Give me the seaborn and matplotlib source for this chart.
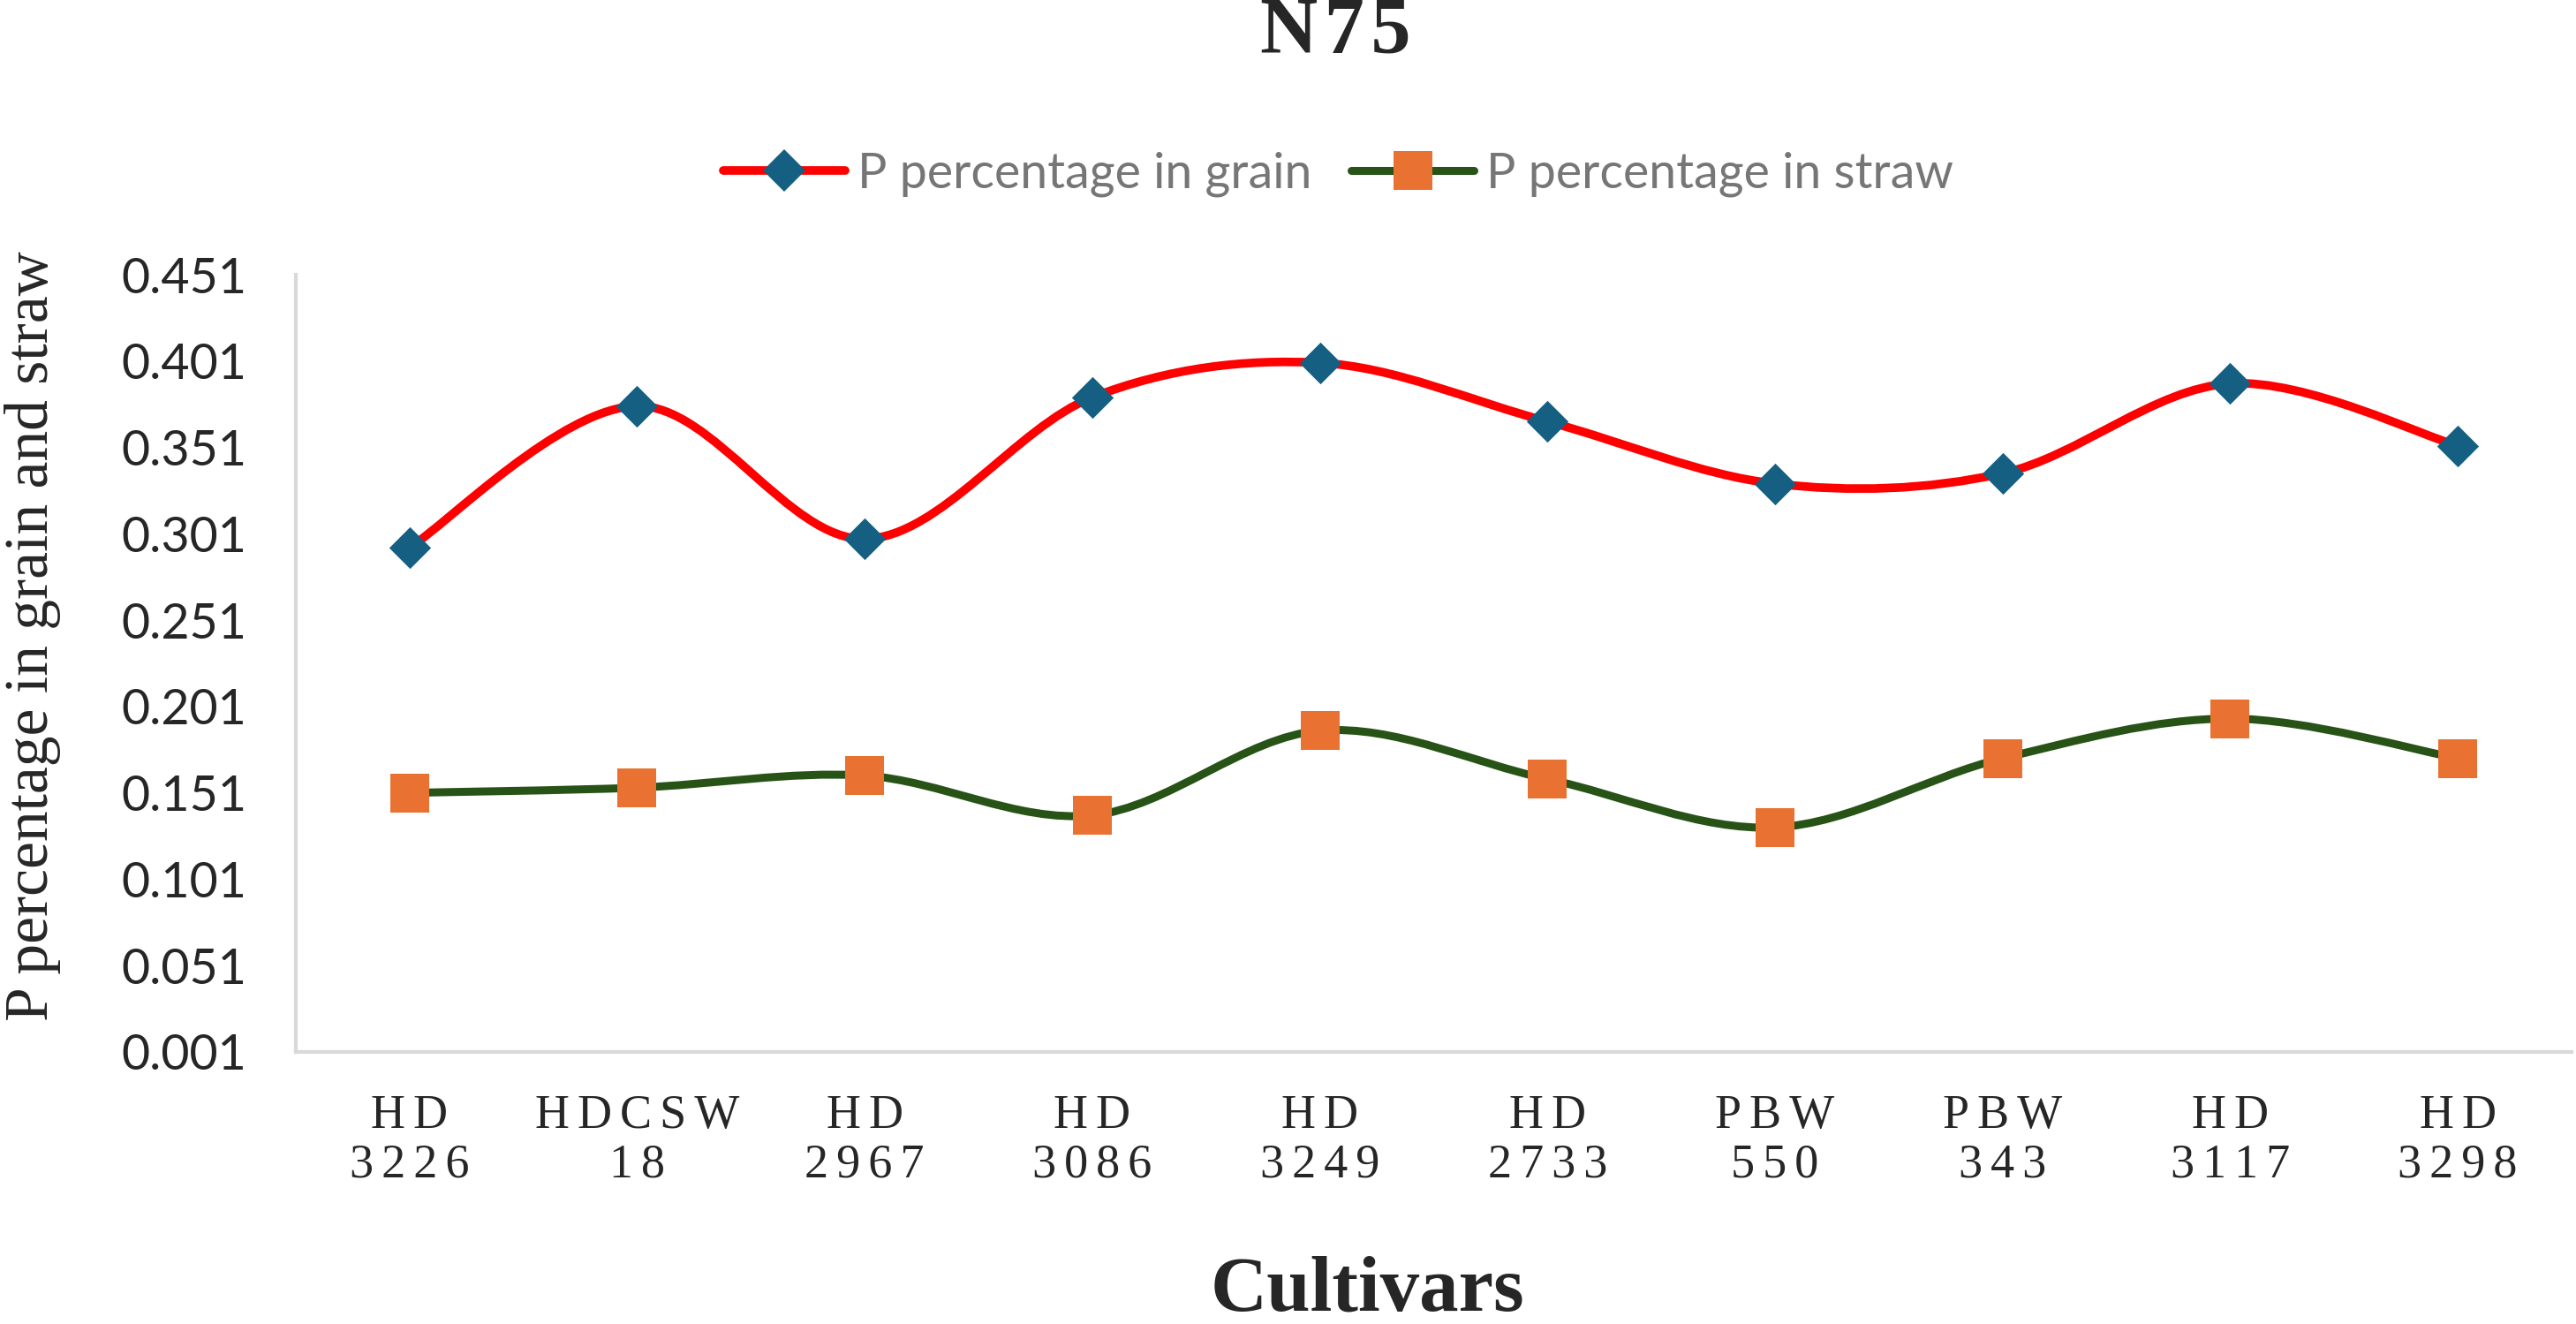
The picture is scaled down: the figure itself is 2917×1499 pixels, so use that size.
import numpy as np
import pandas as pd
import matplotlib
matplotlib.use("Agg")
import matplotlib.pyplot as plt
import seaborn as sns
from matplotlib.path import Path
from matplotlib.patches import PathPatch
from matplotlib.lines import Line2D

cultivars = ["HD\n3226", "HDCSW\n18", "HD\n2967", "HD\n3086", "HD\n3249",
             "HD\n2733", "PBW\n550", "PBW\n343", "HD\n3117", "HD\n3298"]
grain = [0.293, 0.375, 0.298, 0.380, 0.400, 0.366, 0.330, 0.336, 0.388, 0.352]
straw = [0.151, 0.154, 0.161, 0.138, 0.187, 0.159, 0.131, 0.171, 0.194, 0.171]
y_ticks = [0.001, 0.051, 0.101, 0.151, 0.201, 0.251, 0.301, 0.351, 0.401, 0.451]

grain_name = "P percentage in grain"
straw_name = "P percentage in straw"

df = pd.DataFrame({
    "Cultivar": cultivars * 2,
    "value": grain + straw,
    "series": [grain_name] * len(grain) + [straw_name] * len(straw),
})

sns.set_style("white")
sans = ["Lato", "DejaVu Sans"]
serif = ["Liberation Serif", "DejaVu Serif"]


def spaced(s, gap="\u2006"):
    # the reference has loose letter spacing on the serif labels
    return "\n".join(gap.join(line) for line in s.split("\n"))


fig = plt.figure(figsize=(29.17, 14.99), dpi=100)
ax = fig.add_axes([0.1148, 0.2055, 0.8835, 0.587])


def smooth_path(xs, ys):
    # excel-like smoothed line (catmull-rom as cubic bezier)
    n = len(xs)
    verts = [(xs[0], ys[0])]
    codes = [Path.MOVETO]
    for i in range(n - 1):
        a = i - 1 if i > 0 else i
        d = i + 2 if i + 2 < n else i + 1
        c1 = (xs[i] + (xs[i + 1] - xs[a]) / 6, ys[i] + (ys[i + 1] - ys[a]) / 6)
        c2 = (xs[i + 1] - (xs[d] - xs[i]) / 6, ys[i + 1] - (ys[d] - ys[i]) / 6)
        verts += [c1, c2, (xs[i + 1], ys[i + 1])]
        codes += [Path.CURVE4] * 3
    return Path(verts, codes)


line_colors = {grain_name: "#FF0000", straw_name: "#275317"}
marker_colors = {grain_name: "#156082", straw_name: "#E97132"}
pos = np.arange(len(cultivars))
for name, vals, lw in [(grain_name, grain, 7.0), (straw_name, straw, 6.5)]:
    ax.add_patch(PathPatch(smooth_path(pos, vals), facecolor="none",
                           edgecolor=line_colors[name], lw=lw, zorder=2,
                           capstyle="round"))

sns.scatterplot(data=df[df.series == grain_name], x="Cultivar", y="value",
                marker="D", s=580, color=marker_colors[grain_name],
                linewidth=0, zorder=3, ax=ax, legend=False)
sns.scatterplot(data=df[df.series == straw_name], x="Cultivar", y="value",
                marker="s", s=1020, color=marker_colors[straw_name],
                linewidth=0, zorder=3, ax=ax, legend=False)

ax.set_xlim(-0.5, len(cultivars) - 0.5)
ax.set_ylim(0.001, 0.451)
ax.set_yticks(y_ticks)
ax.set_yticklabels([f"{t:.3f}" for t in y_ticks], fontsize=40, family=sans)
ax.set_xticks(pos)
ax.set_xticklabels([spaced(c) for c in cultivars], fontsize=39, family=serif,
                   linespacing=1.14)
ax.tick_params(axis="x", length=0, pad=34)
ax.tick_params(axis="y", length=0, pad=40)

for side in ["top", "right"]:
    ax.spines[side].set_visible(False)
for side in ["left", "bottom"]:
    ax.spines[side].set_color("#d9d9d9")
    ax.spines[side].set_linewidth(3)

ax.set_ylabel("P percentage in grain and straw", fontsize=50, family=serif, va="center")
ax.yaxis.set_label_coords(-0.1157, 0.535)
ax.set_xlabel("Cultivars", fontsize=64, family=serif, fontweight="bold", va="center")
ax.xaxis.set_label_coords(0.471, -0.308)
ax.set_title(spaced("N75", "\u200a"), fontsize=65, family=serif, fontweight="bold",
             x=0.457, y=1.311, va="center", pad=0)

handles = [
    Line2D([], [], color=line_colors[grain_name], lw=7, marker="D", markersize=24,
           markerfacecolor=marker_colors[grain_name], markeredgewidth=0),
    Line2D([], [], color=line_colors[straw_name], lw=6.5, marker="s", markersize=32,
           markerfacecolor=marker_colors[straw_name], markeredgewidth=0),
]
leg = ax.legend(handles, [grain_name, straw_name], loc="center",
                bbox_to_anchor=(0.458, 1.1295), ncol=2, frameon=False,
                handlelength=2.5, handletextpad=0.25, columnspacing=0.8,
                prop={"family": sans, "size": 40})
for t in leg.get_texts():
    t.set_color("#767676")

fig.savefig("out.png", dpi=100)
